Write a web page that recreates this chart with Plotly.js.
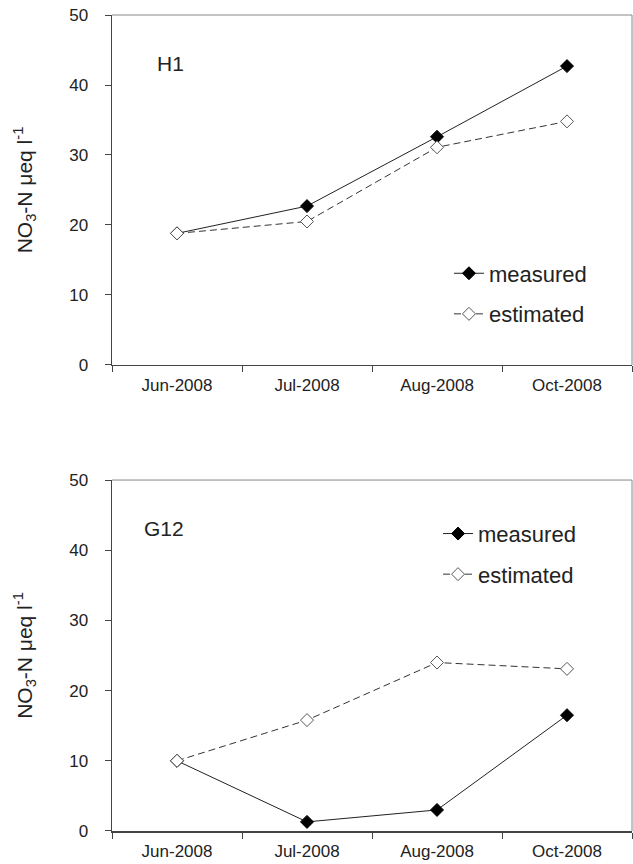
<!DOCTYPE html>
<html>
<head>
<meta charset="utf-8">
<script src="https://cdn.plot.ly/plotly-3.0.1.min.js"></script>
<style>html,body{margin:0;padding:0;background:#fff;}#chart{width:633px;height:864px;}</style>
</head>
<body>
<div id="chart"></div>
<script>
var months = ["Jun-2008", "Jul-2008", "Aug-2008", "Oct-2008"];
var h1Measured = [18.8, 22.7, 32.6, 42.7];
var h1Estimated = [18.8, 20.5, 31.1, 34.8];
var g12Measured = [10.0, 1.3, 3.0, 16.5];
var g12Estimated = [10.0, 15.8, 24.0, 23.1];
var yTitle = "NO<sub>3</sub>-N μeq l<sup>-1</sup>";

var FONT = "Liberation Sans, Arial, sans-serif";
var TXT = "#222";

function measuredTrace(y, xa, ya, leg) {
  return {x: months, y: y, xaxis: xa, yaxis: ya, legend: leg, name: "measured",
    legendgroup: "m" + leg, type: "scatter", mode: "lines+markers",
    line: {color: "#222", width: 1},
    marker: {symbol: "diamond", size: 10, color: "#000", line: {color: "#000", width: 1}}};
}
function estimatedTrace(y, xa, ya, leg) {
  return {x: months, y: y, xaxis: xa, yaxis: ya, legend: leg, name: "estimated",
    legendgroup: "e" + leg, type: "scatter", mode: "lines+markers",
    line: {color: "#333", width: 1, dash: "7px,4px"},
    marker: {symbol: "diamond", size: 10, color: "#fff", line: {color: "#555", width: 1}}};
}

var data = [
  measuredTrace(h1Measured, "x", "y", "legend"),
  estimatedTrace(h1Estimated, "x", "y", "legend"),
  measuredTrace(g12Measured, "x2", "y2", "legend2"),
  estimatedTrace(g12Estimated, "x2", "y2", "legend2")
];

var topDom = [0.5711, 1];
var botDom = [0, 0.4301];

function xAxis(anchor) {
  return {type: "category", anchor: anchor, domain: [0, 1], range: [-0.5, 3.5],
    tickson: "boundaries", ticks: "outside", ticklen: 6, tickcolor: "#444", tickwidth: 1,
    ticklabelstandoff: 4,
    showline: true, linecolor: "#444", linewidth: 1.5, showgrid: false, zeroline: false,
    tickfont: {family: FONT, size: 17, color: TXT}};
}
function yAxis(anchor, dom) {
  return {anchor: anchor, domain: dom, range: [0, 50], dtick: 10, tick0: 0,
    ticks: "outside", ticklen: 6, tickcolor: "#444", tickwidth: 1,
    ticklabelstandoff: 13,
    showline: true, linecolor: "#444", linewidth: 1.5, showgrid: false, zeroline: false,
    tickfont: {family: FONT, size: 17, color: TXT},
    title: {text: yTitle, font: {family: FONT, size: 21, color: TXT}, standoff: 31}};
}

var legendBase = {font: {family: FONT, size: 22, color: TXT}, bgcolor: "rgba(0,0,0,0)",
  xanchor: "left", yanchor: "top", traceorder: "grouped", tracegroupgap: 9, itemwidth: 30};

var layout = {
  width: 633, height: 864,
  margin: {l: 112, r: 1, t: 15, b: 33},
  paper_bgcolor: "#fff", plot_bgcolor: "#fff",
  font: {family: FONT, color: TXT},
  showlegend: true,
  xaxis: xAxis("y"),
  yaxis: yAxis("x", topDom),
  xaxis2: xAxis("y2"),
  yaxis2: yAxis("x2", botDom),
  legend: Object.assign({}, legendBase, {x: 0.648, y: 0.709}),
  legend2: Object.assign({}, legendBase, {x: 0.627, y: 0.39}),
  annotations: [
    {text: "H1", xref: "paper", yref: "paper", x: 0.082, y: (831 - 63) / 816, xanchor: "left", yanchor: "middle",
     showarrow: false, font: {family: FONT, size: 21, color: TXT}},
    {text: "G12", xref: "paper", yref: "paper", x: 0.057, y: (831 - 528) / 816, xanchor: "left", yanchor: "middle",
     showarrow: false, font: {family: FONT, size: 21, color: TXT}}
  ],
  shapes: [
    {type: "line", xref: "paper", yref: "paper", x0: 0, x1: 1, y0: topDom[1], y1: topDom[1], line: {color: "#888", width: 1}},
    {type: "line", xref: "paper", yref: "paper", x0: 1, x1: 1, y0: topDom[0], y1: topDom[1], line: {color: "#888", width: 1}},
    {type: "line", xref: "paper", yref: "paper", x0: 0, x1: 1, y0: botDom[1], y1: botDom[1], line: {color: "#888", width: 1}},
    {type: "line", xref: "paper", yref: "paper", x0: 1, x1: 1, y0: botDom[0], y1: botDom[1], line: {color: "#888", width: 1}}
  ]
};

Plotly.newPlot("chart", data, layout, {displayModeBar: false, staticPlot: true});
</script>
</body>
</html>
